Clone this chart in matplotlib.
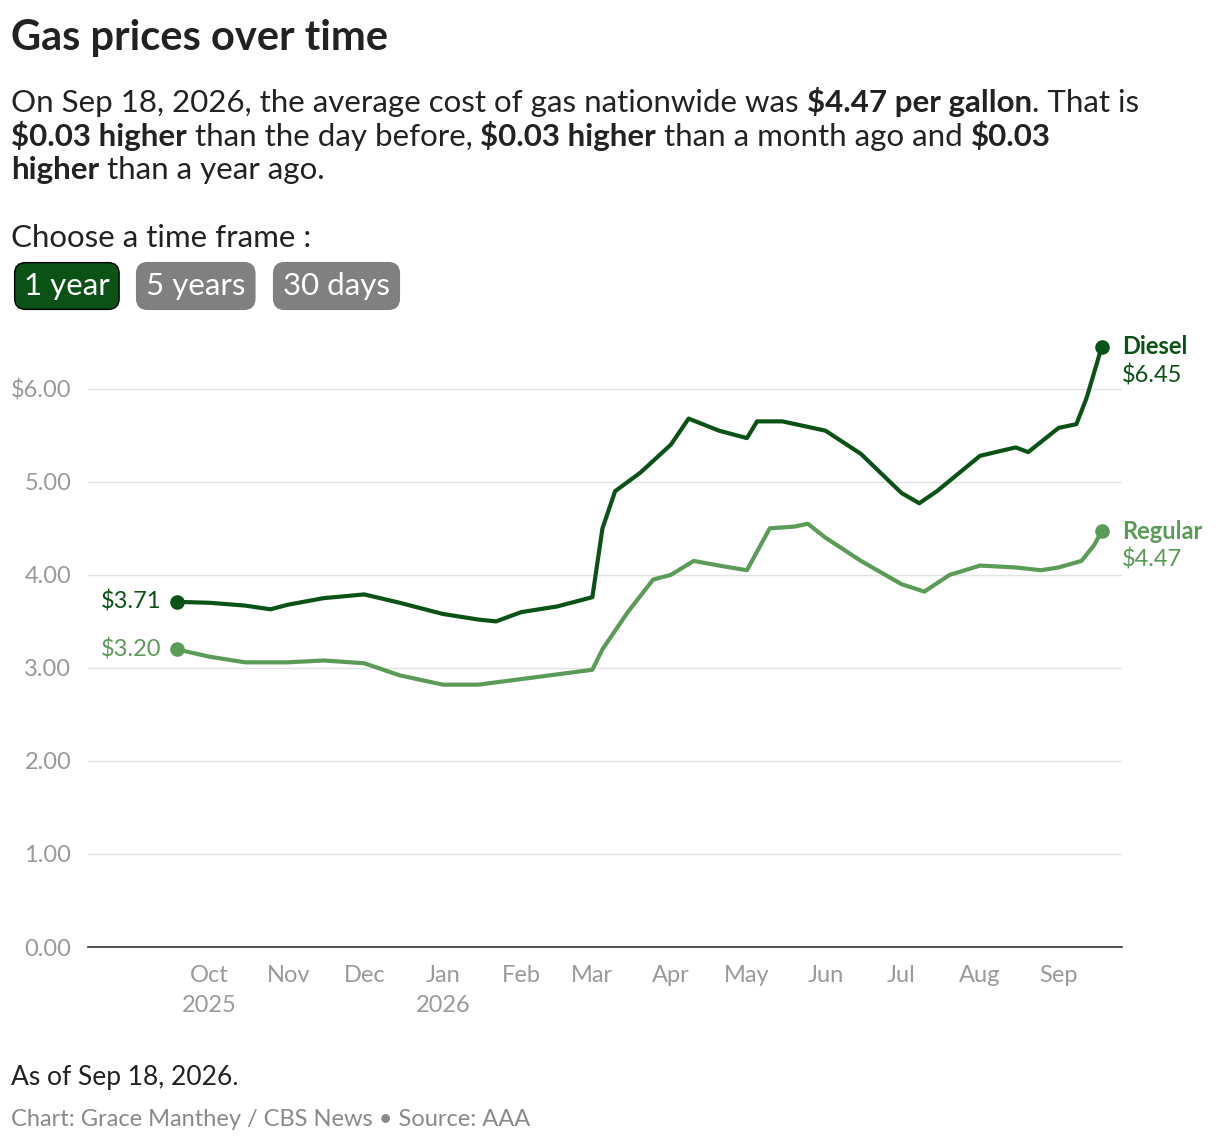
import matplotlib.pyplot as plt
import pandas as pd
from matplotlib.offsetbox import TextArea, HPacker, AnchoredOffsetbox

plt.rcParams['font.family'] = ['Lato', 'DejaVu Sans']

diesel_dates = ["2025-09-18", "2025-10-01", "2025-10-15", "2025-10-25", "2025-11-01", "2025-11-15",
                "2025-12-01", "2025-12-15", "2026-01-01", "2026-01-15", "2026-01-22", "2026-02-01",
                "2026-02-15", "2026-03-01", "2026-03-05", "2026-03-10", "2026-03-20", "2026-04-01",
                "2026-04-08", "2026-04-20", "2026-05-01", "2026-05-05", "2026-05-15", "2026-06-01",
                "2026-06-15", "2026-07-01", "2026-07-08", "2026-07-15", "2026-08-01", "2026-08-15",
                "2026-08-20", "2026-09-01", "2026-09-08", "2026-09-12", "2026-09-18"]
diesel = [3.71, 3.70, 3.67, 3.63, 3.68, 3.75, 3.79, 3.70, 3.58, 3.52, 3.50, 3.60, 3.66, 3.76,
          4.50, 4.90, 5.10, 5.40, 5.68, 5.55, 5.47, 5.65, 5.65, 5.55, 5.30, 4.88, 4.77, 4.90,
          5.28, 5.37, 5.32, 5.58, 5.62, 5.90, 6.45]

regular_dates = ["2025-09-18", "2025-10-01", "2025-10-15", "2025-11-01", "2025-11-15", "2025-12-01",
                 "2025-12-15", "2026-01-01", "2026-01-15", "2026-02-01", "2026-02-15", "2026-03-01",
                 "2026-03-05", "2026-03-15", "2026-03-25", "2026-04-01", "2026-04-10", "2026-04-20",
                 "2026-05-01", "2026-05-10", "2026-05-20", "2026-05-25", "2026-06-01", "2026-06-15",
                 "2026-07-01", "2026-07-10", "2026-07-20", "2026-08-01", "2026-08-15", "2026-08-25",
                 "2026-09-01", "2026-09-10", "2026-09-15", "2026-09-18"]
regular = [3.20, 3.12, 3.06, 3.06, 3.08, 3.05, 2.92, 2.82, 2.82, 2.88, 2.93, 2.98, 3.20, 3.60,
           3.95, 4.00, 4.15, 4.10, 4.05, 4.50, 4.52, 4.55, 4.40, 4.15, 3.90, 3.82, 4.00, 4.10,
           4.08, 4.05, 4.08, 4.15, 4.32, 4.47]

month_ticks = ["2025-10-01", "2025-11-01", "2025-12-01", "2026-01-01", "2026-02-01", "2026-03-01",
               "2026-04-01", "2026-05-01", "2026-06-01", "2026-07-01", "2026-08-01", "2026-09-01"]
month_labels = ["Oct\n2025", "Nov", "Dec", "Jan\n2026", "Feb", "Mar", "Apr", "May", "Jun", "Jul", "Aug", "Sep"]

dark = '#0b5216'
light = '#5b9b58'
grey = '#9a9a9a'

fig = plt.figure(figsize=(12.2, 11.46), dpi=100)
ax = fig.add_axes([88/1220, 1-947/1146, (1122-88)/1220, (947-333)/1146])

dd = pd.to_datetime(diesel_dates)
rd = pd.to_datetime(regular_dates)
ax.plot(dd, diesel, color=dark, lw=3, solid_capstyle='round')
ax.plot(rd, regular, color=light, lw=3, solid_capstyle='round')
for d, v, c in [(dd, diesel, dark), (rd, regular, light)]:
    ax.scatter([d[0], d[-1]], [v[0], v[-1]], color=c, s=90, zorder=5)
    ax.text(d[0] - pd.Timedelta(days=6), v[0], f"${v[0]:.2f}", color=c, fontsize=17,
            ha='right', va='center')
for d, v, c, name in [(dd, diesel, dark, "Diesel"), (rd, regular, light, "Regular")]:
    ax.text(d[-1] + pd.Timedelta(days=8), v[-1], name, color=c, fontsize=17,
            fontweight='bold', va='center')
    ax.text(d[-1] + pd.Timedelta(days=8), v[-1] - 0.31, f"${v[-1]:.2f}", color=c,
            fontsize=17, va='center')

ax.set_xlim(pd.Timestamp("2025-08-14"), pd.Timestamp("2026-09-26"))
ax.set_ylim(0, 6.6)
ax.set_yticks([0, 1, 2, 3, 4, 5, 6])
ax.set_yticklabels(["0.00", "1.00", "2.00", "3.00", "4.00", "5.00", "$6.00"])
ax.set_xticks(pd.to_datetime(month_ticks))
ax.set_xticklabels(month_labels, linespacing=1.5)
ax.tick_params(axis='both', length=0, labelsize=17, labelcolor=grey)
ax.tick_params(axis='x', pad=13)
ax.tick_params(axis='y', pad=12)
ax.grid(axis='y', color='#e3e3e3', lw=1)
ax.set_axisbelow(True)
for s in ['top', 'right', 'left']:
    ax.spines[s].set_visible(False)
ax.spines['bottom'].set_color('#333333')
ax.spines['bottom'].set_linewidth(1.2)

fig.text(11/1220, 1-38/1146, "Gas prices over time", fontsize=30, fontweight='bold',
         color='#222222', va='center')
lines = [
    [("On Sep 18, 2026, the average cost of gas nationwide was ", "normal"), ("$4.47 per gallon", "bold"), (". That is", "normal")],
    [("$0.03 higher", "bold"), (" than the day before, ", "normal"), ("$0.03 higher", "bold"), (" than a month ago and ", "normal"), ("$0.03", "bold")],
    [("higher", "bold"), (" than a year ago.", "normal")],
]
for i, ln in enumerate(lines):
    parts = [TextArea(t.replace("$", r"\$"), textprops=dict(fontsize=22.5, fontweight=w, color='#222222'))
             for t, w in ln]
    box = HPacker(children=parts, align="baseline", pad=0, sep=0)
    ab = AnchoredOffsetbox(loc='center left', child=box, bbox_to_anchor=(11/1220, 1-(102+34*i)/1146),
                           bbox_transform=fig.transFigure, frameon=False, pad=0, borderpad=0)
    fig.add_artist(ab)

fig.text(11/1220, 1-238/1146, "Choose a time frame :", fontsize=22.5, color='#222222', va='center')
for x, label, fc in [(24, "1 year", dark), (146, "5 years", '#808080'), (283, "30 days", '#808080')]:
    fig.text(x/1220, 1-286/1146, label, fontsize=22.5, color='white', va='center',
             bbox=dict(boxstyle='round,pad=0.3,rounding_size=0.35', fc=fc,
                       ec='black' if fc == dark else fc, lw=1))

fig.text(11/1220, 1-1077/1146, "As of Sep 18, 2026.", fontsize=19, color='#222222', va='center')
fig.text(11/1220, 1-1119/1146, "Chart: Grace Manthey / CBS News \u2022 Source: AAA", fontsize=17,
         color='#8a8a8a', va='center')

fig.savefig("out.png", dpi=100, facecolor='white')
